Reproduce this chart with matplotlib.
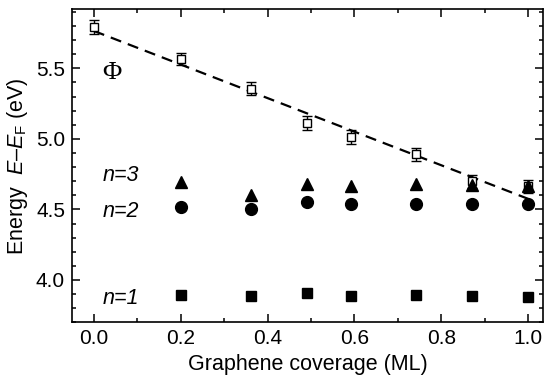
import matplotlib.pyplot as plt
from matplotlib.ticker import MultipleLocator

plt.rcParams['font.family'] = ['Liberation Sans', 'DejaVu Sans']
plt.rcParams['mathtext.fontset'] = 'custom'
plt.rcParams['mathtext.it'] = 'Liberation Sans:italic'
plt.rcParams['mathtext.rm'] = 'Liberation Sans'

# graphene coverage (ML)
cov_phi = [0.0, 0.2, 0.363, 0.49, 0.593, 0.742, 0.871, 1.0]
phi = [5.79, 5.565, 5.355, 5.115, 5.015, 4.89, 4.70, 4.665]
phi_err = [0.05, 0.045, 0.045, 0.05, 0.05, 0.045, 0.045, 0.045]

cov = [0.2, 0.363, 0.49, 0.593, 0.742, 0.871, 1.0]
n3 = [4.695, 4.605, 4.68, 4.665, 4.68, 4.67, 4.665]
n2 = [4.52, 4.50, 4.555, 4.54, 4.54, 4.535, 4.535]
n1 = [3.895, 3.885, 3.905, 3.89, 3.895, 3.89, 3.88]

# linear fit of the work function
fit_x = [0.0, 1.0]
fit_y = [5.765, 4.575]

fig, ax = plt.subplots(figsize=(5.5, 3.77), dpi=100)
fig.subplots_adjust(left=0.131, right=0.988, top=0.976, bottom=0.145)

ax.plot(fit_x, fit_y, color='black', lw=1.6, dashes=(5, 3.2))
ax.errorbar(cov_phi, phi, yerr=phi_err, fmt='s', mfc='white', mec='black',
            ms=6, mew=1.0, ecolor='black', elinewidth=1.0, capsize=3.5, zorder=3)
ax.plot(cov, n3, '^', color='black', ms=9, zorder=4)
ax.plot(cov, n2, 'o', color='black', ms=8.5, zorder=4)
ax.plot(cov, n1, 's', color='black', ms=7.5, zorder=4)

ax.text(0.02, 5.47, 'Φ', fontsize=19, family='Liberation Serif', va='center')
ax.text(0.02, 4.74, 'n=3', fontsize=15.5, style='italic', va='center')
ax.text(0.02, 4.485, 'n=2', fontsize=15.5, style='italic', va='center')
ax.text(0.02, 3.87, 'n=1', fontsize=15.5, style='italic', va='center')

ax.set_xlim(-0.05, 1.035)
ax.set_ylim(3.7, 5.92)
ax.xaxis.set_major_locator(MultipleLocator(0.2))
ax.xaxis.set_minor_locator(MultipleLocator(0.1))
ax.yaxis.set_major_locator(MultipleLocator(0.5))
ax.yaxis.set_minor_locator(MultipleLocator(0.1))
ax.xaxis.set_major_formatter(plt.FuncFormatter(lambda v, p: '%.1f' % v))
ax.tick_params(which='both', direction='in', top=True, right=True,
               labelsize=15, width=1.1)
ax.tick_params(which='major', length=6, pad=5)
ax.tick_params(which='minor', length=3)
for s in ax.spines.values():
    s.set_linewidth(1.2)

ax.set_xlabel('Graphene coverage (ML)', fontsize=15.5, labelpad=4)
ax.set_ylabel(r'Energy  $E$–$E_\mathrm{F}$ (eV)', fontsize=15.5, labelpad=4)

plt.savefig('out.png')
